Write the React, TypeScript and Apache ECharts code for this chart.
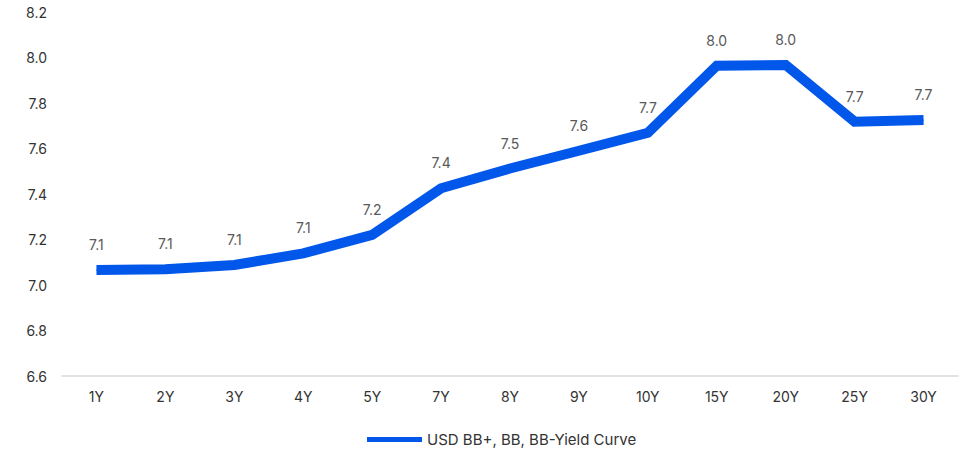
import React, { useEffect, useRef } from "react";
import * as echarts from "echarts";

const tenors = ["1Y", "2Y", "3Y", "4Y", "5Y", "7Y", "8Y", "9Y", "10Y", "15Y", "20Y", "25Y", "30Y"];
const yields = [7.066, 7.069, 7.088, 7.139, 7.22, 7.425, 7.512, 7.59, 7.669, 7.964, 7.967, 7.718, 7.725];
const seriesName = "USD BB+, BB, BB-Yield Curve";

const FONT = "Inter, 'Noto Sans', sans-serif";

export default function App() {
  const ref = useRef<HTMLDivElement>(null);

  useEffect(() => {
    document.body.style.margin = "0";
    if (!ref.current) return;
    const chart = echarts.init(ref.current, undefined, { renderer: "svg" });
    chart.setOption({
      animation: false,
      grid: { left: 62, right: 5, top: 12, bottom: 75 },
      legend: {
        top: 427,
        left: 362,
        icon: "rect",
        itemWidth: 55,
        itemHeight: 5,
        itemGap: 10,
        textStyle: { fontFamily: FONT, fontSize: 15, color: "#333" },
        data: [seriesName],
      },
      xAxis: {
        type: "category",
        data: tenors,
        boundaryGap: true,
        axisLine: { lineStyle: { color: "#d9d9d9", width: 1.5 } },
        axisTick: { show: false },
        axisLabel: { fontFamily: FONT, fontSize: 14, color: "#333", margin: 13 },
      },
      yAxis: {
        type: "value",
        min: 6.6,
        max: 8.2,
        interval: 0.2,
        splitLine: { show: false },
        axisLine: { show: false },
        axisTick: { show: false },
        axisLabel: {
          fontFamily: FONT,
          fontSize: 14,
          color: "#333",
          margin: 15,
          formatter: (v: number) => v.toFixed(1),
        },
      },
      series: [
        {
          name: seriesName,
          type: "line",
          data: yields,
          symbol: "circle",
          symbolSize: 1,
          showSymbol: true,
          itemStyle: { color: "#0057EA" },
          lineStyle: { color: "#0057EA", width: 10, cap: "butt", join: "miter" },
          label: {
            show: true,
            position: "top",
            distance: 18,
            fontFamily: FONT,
            fontSize: 14,
            color: "#595959",
            formatter: (p: any) => Number(p.value).toFixed(1),
          },
        },
      ],
    });
    return () => chart.dispose();
  }, []);

  return <div ref={ref} style={{ width: 963, height: 451 }} />;
}
